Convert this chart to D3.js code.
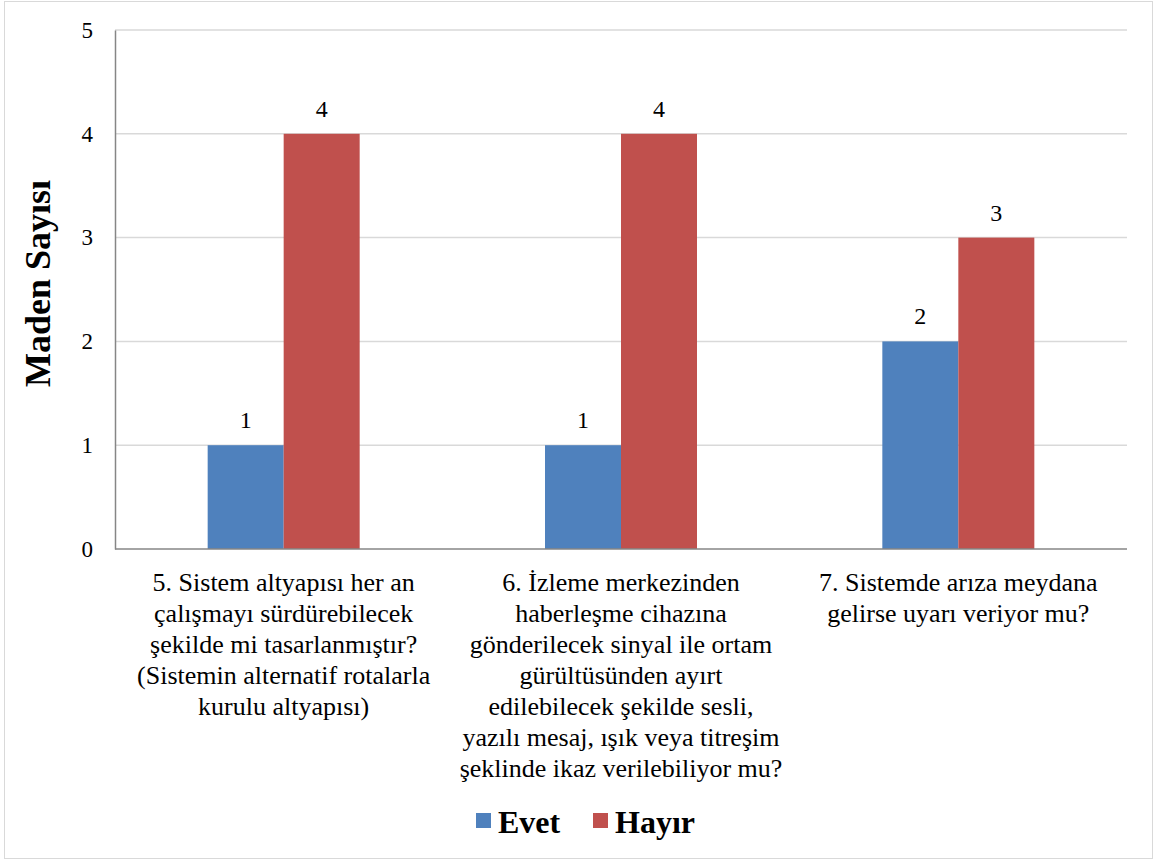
<!DOCTYPE html>
<html>
<head>
<meta charset="utf-8">
<script src="https://cdn.jsdelivr.net/npm/d3@7"></script>
<style>
  body { margin: 0; background: #fff; }
  text { font-family: "Liberation Serif", "DejaVu Serif", serif; }
</style>
</head>
<body>
<div id="chart"></div>
<script>
// categories, split into the lines they wrap onto
const categories = ['q5', 'q6', 'q7'];
const categoryLines = [
  ['5. Sistem altyapısı her an', 'çalışmayı sürdürebilecek', 'şekilde mi tasarlanmıştır?', '(Sistemin alternatif rotalarla', 'kurulu altyapısı)'],
  ['6. İzleme merkezinden', 'haberleşme cihazına', 'gönderilecek sinyal ile ortam', 'gürültüsünden ayırt', 'edilebilecek şekilde sesli,', 'yazılı mesaj, ışık veya titreşim', 'şeklinde ikaz verilebiliyor mu?'],
  ['7. Sistemde arıza meydana', 'gelirse uyarı veriyor mu?']
];
const seriesNames = ['Evet', 'Hayır'];
const evet = [1, 1, 2];
const hayir = [4, 4, 3];
const yTicks = [0, 1, 2, 3, 4, 5];
const colors = ['#4F81BD', '#C0504D'];

const FONT = '"Liberation Serif", "DejaVu Serif", serif';
const W = 1157, H = 863;
const margin = { left: 115, right: 30, top: 30, bottom: 314 };
const GROUP_W = 152;

const svg = d3.select('#chart').append('svg')
  .attr('width', W)
  .attr('height', H)
  .attr('font-family', FONT)
  .style('display', 'block');

// outer frame
svg.append('rect')
  .attr('x', 4.5).attr('y', 1.5)
  .attr('width', 1148).attr('height', 857)
  .attr('fill', '#fff')
  .attr('stroke', '#d9d9d9');

const x = d3.scaleBand()
  .domain(categories)
  .range([margin.left, W - margin.right]);

const inner = d3.scaleBand()
  .domain(seriesNames)
  .range([0, GROUP_W])
  .padding(0);

const y = d3.scaleLinear()
  .domain([0, 5])
  .range([H - margin.bottom, margin.top]);

// gridlines
svg.append('g')
  .selectAll('line')
  .data(yTicks.filter(d => d > 0))
  .join('line')
  .attr('x1', margin.left)
  .attr('x2', W - margin.right)
  .attr('y1', d => y(d))
  .attr('y2', d => y(d))
  .attr('stroke', '#d9d9d9')
  .attr('stroke-width', 1.5);

// y axis
const yAxis = svg.append('g')
  .attr('transform', `translate(${margin.left},0)`)
  .call(d3.axisLeft(y).tickValues(yTicks).tickFormat(d3.format('d')).tickSize(0).tickPadding(22))
  .attr('font-family', FONT)
  .attr('font-size', 23);
yAxis.select('.domain').attr('stroke', '#868686').attr('stroke-width', 1.5);
yAxis.selectAll('text').attr('fill', '#000');

// bars
const rows = categories.map((c, i) => ({ cat: c, values: [evet[i], hayir[i]] }));
const groups = svg.append('g')
  .selectAll('g')
  .data(rows)
  .join('g')
  .attr('transform', d => `translate(${x(d.cat) + (x.bandwidth() - GROUP_W) / 2},0)`);

groups.selectAll('rect')
  .data(d => d.values.map((v, j) => ({ name: seriesNames[j], v, j })))
  .join('rect')
  .attr('x', d => inner(d.name))
  .attr('width', inner.bandwidth())
  .attr('y', d => y(d.v))
  .attr('height', d => y(0) - y(d.v))
  .attr('fill', d => colors[d.j]);

groups.selectAll('text')
  .data(d => d.values.map((v, j) => ({ name: seriesNames[j], v })))
  .join('text')
  .attr('x', d => inner(d.name) + inner.bandwidth() / 2)
  .attr('y', d => y(d.v) - 17)
  .attr('text-anchor', 'middle')
  .attr('font-size', 24)
  .text(d => d.v);

// x axis line
svg.append('line')
  .attr('x1', margin.left)
  .attr('x2', W - margin.right)
  .attr('y1', y(0))
  .attr('y2', y(0))
  .attr('stroke', '#868686')
  .attr('stroke-width', 1.5);

// category labels
categories.forEach((c, i) => {
  const cx = x(c) + x.bandwidth() / 2;
  const t = svg.append('text')
    .attr('text-anchor', 'middle')
    .attr('font-size', 26)
    .attr('x', cx)
    .attr('y', y(0) + 42);
  t.selectAll('tspan')
    .data(categoryLines[i])
    .join('tspan')
    .attr('x', cx)
    .attr('dy', (d, k) => k === 0 ? 0 : 31)
    .text(d => d);
});

// y axis title
svg.append('text')
  .attr('transform', `translate(50,${(y(0) + y(5)) / 2 - 6}) rotate(-90)`)
  .attr('text-anchor', 'middle')
  .attr('font-size', 36)
  .attr('font-weight', 'bold')
  .text('Maden Sayısı');

// legend
const legendX = [476, 593];
const legend = svg.append('g')
  .selectAll('g')
  .data(seriesNames)
  .join('g')
  .attr('transform', (d, i) => `translate(${legendX[i]},813)`);
legend.append('rect')
  .attr('width', 15).attr('height', 15)
  .attr('fill', (d, i) => colors[i]);
legend.append('text')
  .attr('x', 22)
  .attr('y', 20)
  .attr('font-size', 32)
  .attr('font-weight', 'bold')
  .text(d => d);
</script>
</body>
</html>
